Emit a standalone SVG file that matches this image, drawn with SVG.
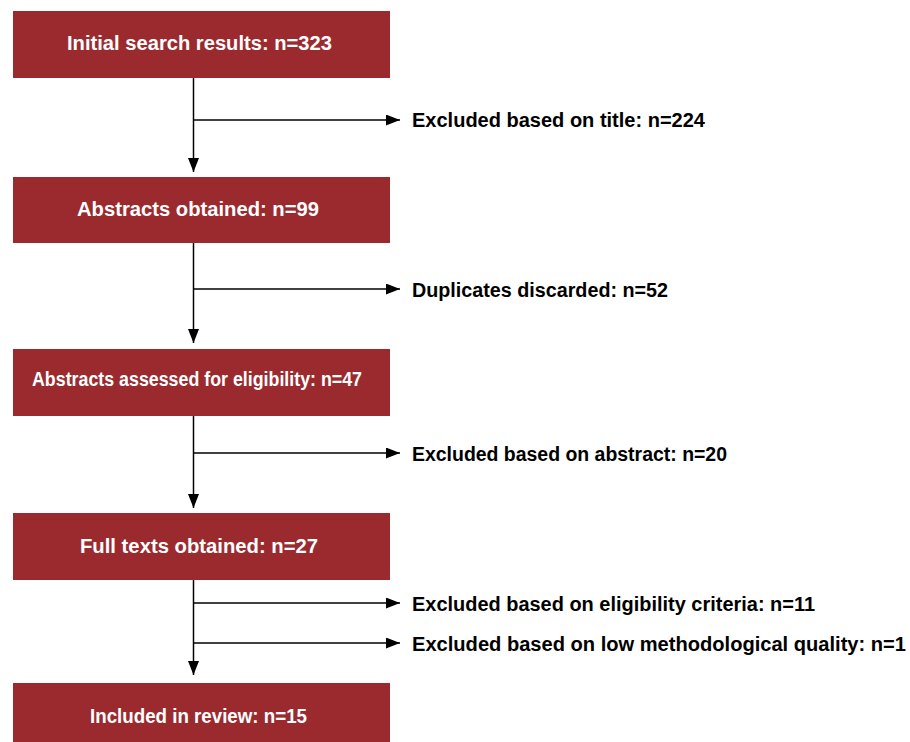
<svg xmlns="http://www.w3.org/2000/svg" width="910" height="742" viewBox="0 0 910 742">
<style>
.box{fill:#9B2A2F}
.bt{fill:#ffffff;font-family:"Liberation Sans",Arial,sans-serif;font-weight:bold;font-size:20px}
.lt{fill:#000000;font-family:"Liberation Sans",Arial,sans-serif;font-weight:bold;font-size:20px}
.ln{stroke:#000;stroke-width:1.5;fill:none}
</style>
<defs>
<marker id="ah" markerUnits="userSpaceOnUse" markerWidth="14" markerHeight="11" refX="14" refY="5.5" orient="auto">
<path d="M0,0 L14,5.5 L0,11 z" fill="#000"/>
</marker>
</defs>
<rect width="910" height="742" fill="#ffffff"/>
<g id="connectors">
<line class="ln" x1="193.5" y1="78" x2="193.5" y2="172" marker-end="url(#ah)"/>
<line class="ln" x1="193.5" y1="120" x2="400" y2="120" marker-end="url(#ah)"/>
<line class="ln" x1="193.5" y1="243" x2="193.5" y2="343" marker-end="url(#ah)"/>
<line class="ln" x1="193.5" y1="289" x2="400" y2="289" marker-end="url(#ah)"/>
<line class="ln" x1="193.5" y1="416" x2="193.5" y2="508" marker-end="url(#ah)"/>
<line class="ln" x1="193.5" y1="453" x2="400" y2="453" marker-end="url(#ah)"/>
<line class="ln" x1="193.5" y1="580" x2="193.5" y2="675" marker-end="url(#ah)"/>
<line class="ln" x1="193.5" y1="603" x2="400" y2="603" marker-end="url(#ah)"/>
<line class="ln" x1="193.5" y1="643" x2="400" y2="643" marker-end="url(#ah)"/>
</g>
<g id="n1"><rect class="box" x="13" y="11" width="377" height="67"/><text class="bt" x="67" y="50" textLength="265" lengthAdjust="spacingAndGlyphs">Initial search results: n=323</text></g>
<g id="n2"><rect class="box" x="13" y="177" width="377" height="66"/><text class="bt" x="77" y="215.5" textLength="242" lengthAdjust="spacingAndGlyphs">Abstracts obtained: n=99</text></g>
<g id="n3"><rect class="box" x="13" y="349" width="377" height="67"/><text class="bt" x="32" y="386" textLength="330" lengthAdjust="spacingAndGlyphs">Abstracts assessed for eligibility: n=47</text></g>
<g id="n4"><rect class="box" x="13" y="513" width="377" height="67"/><text class="bt" x="80" y="553" textLength="238" lengthAdjust="spacingAndGlyphs">Full texts obtained: n=27</text></g>
<g id="n5"><rect class="box" x="13" y="683" width="377" height="59"/><text class="bt" x="90" y="723" textLength="217" lengthAdjust="spacingAndGlyphs">Included in review: n=15</text></g>
<g id="l1"><text class="lt" x="412" y="127" textLength="293" lengthAdjust="spacingAndGlyphs">Excluded based on title: n=224</text></g>
<g id="l2"><text class="lt" x="412" y="296.5" textLength="256" lengthAdjust="spacingAndGlyphs">Duplicates discarded: n=52</text></g>
<g id="l3"><text class="lt" x="412" y="461" textLength="315" lengthAdjust="spacingAndGlyphs">Excluded based on abstract: n=20</text></g>
<g id="l4"><text class="lt" x="412" y="610.5" textLength="403" lengthAdjust="spacingAndGlyphs">Excluded based on eligibility criteria: n=11</text></g>
<g id="l5"><text class="lt" x="412" y="650.5" textLength="494" lengthAdjust="spacingAndGlyphs">Excluded based on low methodological quality: n=1</text></g>
</svg>
